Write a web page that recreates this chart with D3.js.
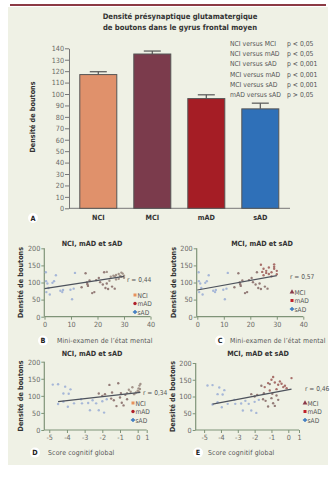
<!DOCTYPE html>
<html><head><meta charset="utf-8">
<script src="https://cdn.jsdelivr.net/npm/d3@7"></script>
<style>
html,body{margin:0;padding:0;background:#fff;}
svg{display:block;}
text{font-family:"Liberation Sans Narrow","DejaVu Sans Condensed","Liberation Sans",sans-serif;}
</style></head>
<body>
<svg id="c" width="336" height="478"></svg>
<script>
// ---------- DATA ----------
const barCats = ["NCI","MCI","mAD","sAD"];
const barValues = [117,135,96,87];
const barErrors = [2.5,2.6,3.3,5];
const barColors = ["#e0916b","#7b3b4c","#a51d25","#2f70b8"];
const barTicks = [0,10,20,30,40,50,60,70,80,90,100,110,120,130,140];
const statLabels = ["NCI versus MCI","NCI versus mAD","NCI versus sAD","MCI versus mAD","MCI versus sAD","mAD versus sAD"];
const statP = ["p < 0,05","p < 0,05","p < 0,001","p < 0,001","p < 0,001","p > 0,05"];

// MMSE panels (x: MMSE score, y: bouton density)
const sadMMSE = [[0.5,130],[0.6,104],[1.1,97],[0.7,72],[2,65],[1.5,84],[3.6,104],[4.3,121],[6,76],[6.7,72],[9.8,79],[10.4,51],[11,82],[3,99],[7,78],[11.5,128]];
const madMMSE = [[14,86],[15.5,127],[16,100],[16.4,90],[17,106],[18,69],[18.8,72],[19.5,107],[21,101],[22,94],[23,84],[24,81],[16.2,95],[20.5,113],[25.5,88],[26.5,82],[23.5,97],[22.5,130]];
const nciMMSE = [[23.5,131],[26,120],[27,122],[28,125],[29,129],[29,117],[30,114],[28,111],[25,117],[24.5,105],[27,109],[30,120],[29.5,126],[26.5,118],[28.5,119]];
const mciMMSE = [[24,152],[25,140],[26,134],[27,144],[28,130],[29,153],[29,140],[30,124],[27,125],[28,118],[26,128],[25,121],[29,146],[30,134],[24.5,131]];
// Global cognitive score panels
const sadGCS = [[-4.8,133],[-4.5,134],[-4.1,127],[-3.8,119],[-4.2,107],[-3.9,106],[-4.2,83],[-3.95,68],[-3.6,78],[-3.2,90],[-3.15,78],[-2.8,79],[-2.7,58],[-2.55,87],[-2.35,78],[-2.2,58],[-2.0,84],[-1.9,51],[-1.75,90],[-4.5,76]];
const madGCS = [[-2.2,107],[-2.0,100],[-1.85,105],[-1.6,132],[-1.45,110],[-1.35,87],[-1.1,137],[-1.0,95],[-0.9,80],[-0.8,72],[-0.7,103],[-1.2,70],[-0.95,108],[-0.6,90],[-1.5,92]];
const nciGCS = [[-0.5,118],[-0.3,125],[-0.1,110],[0.1,122],[0.2,130],[0.3,135],[-0.2,105],[0.0,115],[-0.4,112],[0.25,120],[-0.6,108],[0.15,112]];
const mciGCS = [[-1.4,128],[-1.2,140],[-1.0,150],[-0.9,158],[-0.8,142],[-0.6,135],[-0.5,145],[-0.3,128],[-0.2,132],[-0.1,125],[0.3,155],[-0.7,122],[-1.1,118],[-0.4,138]];

const fitB = [[0,82],[30,118]];
const fitC = [[0,78],[30,120]];
const fitD = [[-4.5,83],[0.3,110]];
const fitE = [[-4.5,77],[0.3,122]];
const mmseTicks = [0,10,20,30,40];
const gcsTicks = [-5,-4,-3,-2,-1,0,1];
const densTicks = [0,50,100,150,200];

// ---------- DRAW ----------
const svg = d3.select("#c");
svg.append("rect").attr("x",8).attr("y",7).attr("width",320).attr("height",458).attr("fill","#eff1e5");
svg.append("rect").attr("x",10).attr("y",4).attr("width",316).attr("height",2).attr("fill","#8c3a44");

const tc = "#6a6a66";
// Bar chart A
const yA = d3.scaleLinear().domain([0,140]).range([208.3,48.3]);
const xA = d3.scaleBand().domain(barCats).range([69,289.6]).paddingInner(0.315).paddingOuter(0.2);
const gA = svg.append("g");
gA.append("text").attr("x",180).attr("y",19).attr("text-anchor","middle").attr("font-size",7.6).attr("font-weight","bold").attr("fill","#333").text("Densité présynaptique glutamatergique");
gA.append("text").attr("x",180).attr("y",30).attr("text-anchor","middle").attr("font-size",7.6).attr("font-weight","bold").attr("fill","#333").text("de boutons dans le gyrus frontal moyen");
const axA = gA.append("g").attr("transform","translate(69,0)").call(d3.axisLeft(yA).tickValues(barTicks).tickSize(4).tickSizeOuter(0));
axA.select(".domain").attr("stroke","#777");
axA.selectAll(".tick line").attr("stroke","#777");
axA.selectAll(".tick text").attr("font-size",7.2).attr("fill",tc).attr("font-family",null).attr("x",-5);
gA.append("line").attr("x1",69).attr("x2",290).attr("y1",yA(0)).attr("y2",yA(0)).attr("stroke","#777");
gA.selectAll("rect.bar").data(barValues).join("rect").attr("class","bar")
  .attr("x",(d,i)=>xA(barCats[i])).attr("width",xA.bandwidth())
  .attr("y",d=>yA(d)).attr("height",d=>yA(0)-yA(d))
  .attr("fill",(d,i)=>barColors[i]).attr("stroke","#555").attr("stroke-width",1);
barValues.forEach((v,i)=>{
  const cx = xA(barCats[i])+xA.bandwidth()/2;
  gA.append("line").attr("x1",cx).attr("x2",cx).attr("y1",yA(v)).attr("y2",yA(v+barErrors[i])).attr("stroke","#555").attr("stroke-width",1.2);
  gA.append("line").attr("x1",cx-8.5).attr("x2",cx+8.5).attr("y1",yA(v+barErrors[i])).attr("y2",yA(v+barErrors[i])).attr("stroke","#555").attr("stroke-width",1.2);
});
gA.selectAll("text.cat").data(barCats).join("text").attr("class","cat")
  .attr("x",d=>xA(d)+xA.bandwidth()/2).attr("y",220).attr("text-anchor","middle")
  .attr("font-size",7.2).attr("font-weight","bold").attr("fill","#333").text(d=>d);
gA.append("text").attr("transform","translate(35,117) rotate(-90)").attr("text-anchor","middle").attr("font-size",7.2).attr("font-weight","bold").attr("fill","#333").text("Densité de boutons");
statLabels.forEach((s,i)=>{
  gA.append("text").attr("x",230).attr("y",46+i*10.2).attr("font-size",6.8).attr("fill","#555").text(s);
  gA.append("text").attr("x",287).attr("y",46+i*10.2).attr("font-size",6.8).attr("fill","#555").text(statP[i]);
});
function letter(x,y,t){
  svg.append("circle").attr("cx",x).attr("cy",y).attr("r",5).attr("fill","#fff");
  svg.append("text").attr("x",x).attr("y",y+2.6).attr("text-anchor","middle").attr("font-size",7.2).attr("font-weight","bold").attr("fill","#222").text(t);
}
letter(33,218,"A");

// Scatter panels
const axisCol = "#7f9478";
function scatter(o){
  const g = svg.append("g");
  const x = o.x, y = o.y;
  g.append("text").attr("x",o.titleX).attr("y",o.titleY).attr("text-anchor","middle").attr("font-size",7.2).attr("font-weight","bold").attr("fill","#333").text(o.title);
  const ay = g.append("g").attr("transform",`translate(${o.axX},0)`).call(d3.axisLeft(y).tickValues(densTicks).tickSize(3).tickSizeOuter(0));
  const ax = g.append("g").attr("transform",`translate(0,${y(0)})`).call(d3.axisBottom(x).tickValues(o.xTicks).tickSize(3).tickSizeOuter(0).tickFormat(d=>d<0?"-"+Math.abs(d):d));
  [ay,ax].forEach(a=>{
    a.select(".domain").attr("stroke",axisCol).attr("stroke-width",1.2);
    a.selectAll(".tick line").attr("stroke",axisCol);
    a.selectAll(".tick text").attr("font-size",7.2).attr("fill",tc).attr("font-family",null);
  });
  ay.selectAll(".tick text").attr("x",-4);
  ax.selectAll(".tick text").attr("y",5);
  ay.select(".domain").attr("d",`M0,${y(0)}V${y(200)}`);
  ax.select(".domain").attr("d",`M${o.axX},0H${x(o.xMax)}`);
  g.append("text").attr("transform",`translate(${o.ylX},${(y(0)+y(200))/2}) rotate(-90)`).attr("text-anchor","middle").attr("font-size",7.2).attr("font-weight","bold").attr("fill","#333").text("Densité de boutons");
  o.sets.forEach(s=>{
    g.selectAll(null).data(s.data).join("circle").attr("cx",d=>x(d[0])).attr("cy",d=>y(d[1])).attr("r",1.2).attr("fill",s.color).attr("opacity",0.9);
  });
  g.append("line").attr("x1",x(o.fit[0][0])).attr("y1",y(o.fit[0][1])).attr("x2",x(o.fit[1][0])).attr("y2",y(o.fit[1][1])).attr("stroke","#4d525c").attr("stroke-width",1.2);
  g.append("text").attr("x",o.rX).attr("y",o.rY).attr("font-size",6.6).attr("fill","#555").text(o.r);
  o.legend.forEach((l,i)=>{
    const ly = o.legY + i*8.5;
    if(l.shape==="sq") g.append("rect").attr("x",o.legX-1.5).attr("y",ly-1.5).attr("width",3).attr("height",3).attr("fill",l.color);
    else if(l.shape==="tri") g.append("path").attr("d",d3.symbol(d3.symbolTriangle,10)()).attr("transform",`translate(${o.legX},${ly})`).attr("fill",l.color);
    else if(l.shape==="plus") g.append("path").attr("d",d3.symbol(d3.symbolCross,10)()).attr("transform",`translate(${o.legX},${ly})`).attr("fill",l.color);
    else g.append("circle").attr("cx",o.legX).attr("cy",ly).attr("r",1.7).attr("fill",l.color);
    g.append("text").attr("x",o.legX+2.5).attr("y",ly+2.5).attr("font-size",6.6).attr("fill","#555").text(l.name);
  });
  g.append("text").attr("x",o.xtX).attr("y",o.xtY).attr("font-size",6.9).attr("letter-spacing",0.15).attr("fill","#555").text(o.xTitle);
  letter(o.lX,o.xtY-2.4,o.letter);
}
const cSad="#9db0d6", cMad="#8a6f6c", cNci="#9a8a80", cMci="#a0605c";
scatter({title:"NCI, mAD et sAD",titleX:92,titleY:246,axX:44.3,
  x:d3.scaleLinear().domain([0,40]).range([44.5,150.5]), y:d3.scaleLinear().domain([0,200]).range([316.7,248.3]),
  xTicks:mmseTicks,xMax:40,ylX:23,
  sets:[{data:sadMMSE,color:cSad},{data:madMMSE,color:cMad},{data:nciMMSE,color:cNci}],
  fit:fitB,r:"r = 0,44",rX:127,rY:282,
  legend:[{name:"NCI",color:"#e8915c",shape:"sq"},{name:"mAD",color:"#b0202a",shape:"dot"},{name:"sAD",color:"#3a78c0",shape:"plus"}],legX:135,legY:295,
  xTitle:"Mini-examen de l’état mental",xtX:57,xtY:343,lX:43,letter:"B"});
scatter({title:"MCI, mAD et sAD",titleX:262,titleY:246,axX:196.7,
  x:d3.scaleLinear().domain([0,40]).range([197.3,303.3]), y:d3.scaleLinear().domain([0,200]).range([316.7,248.3]),
  xTicks:mmseTicks,xMax:40,ylX:176,
  sets:[{data:sadMMSE,color:cSad},{data:madMMSE,color:cMad},{data:mciMMSE,color:cMci}],
  fit:fitC,r:"r = 0,57",rX:290,rY:279,
  legend:[{name:"MCI",color:"#8a3a4a",shape:"tri"},{name:"mAD",color:"#c0202a",shape:"sq"},{name:"sAD",color:"#3a78c0",shape:"plus"}],legX:292,legY:292,
  xTitle:"Mini-examen de l’état mental",xtX:230,xtY:343,lX:220,letter:"C"});
scatter({title:"NCI, mAD et sAD",titleX:92,titleY:356,axX:44.3,
  x:d3.scaleLinear().domain([-5.28,0,1]).range([44.3,137.7,146.7]), y:d3.scaleLinear().domain([0,200]).range([430,361.7]),
  xTicks:gcsTicks,xMax:1,ylX:23,
  sets:[{data:sadGCS,color:cSad},{data:madGCS,color:cMad},{data:nciGCS,color:cNci}],
  fit:fitD,r:"r = 0,34",rX:143,rY:395,
  legend:[{name:"NCI",color:"#e8915c",shape:"sq"},{name:"mAD",color:"#b0202a",shape:"dot"},{name:"sAD",color:"#3a78c0",shape:"plus"}],legX:133,legY:403,
  xTitle:"Score cognitif global",xtX:48,xtY:455,lX:35,letter:"D"});
scatter({title:"MCI, mAD et sAD",titleX:258,titleY:356,axX:195.7,
  x:d3.scaleLinear().domain([-5.5,0,1]).range([195.7,288.3,299]), y:d3.scaleLinear().domain([0,200]).range([430,363]),
  xTicks:gcsTicks,xMax:1,ylX:175,
  sets:[{data:sadGCS,color:cSad},{data:madGCS,color:cMad},{data:mciGCS,color:cMci}],
  fit:fitE,r:"r = 0,46",rX:305,rY:391,
  legend:[{name:"MCI",color:"#8a3a4a",shape:"tri"},{name:"mAD",color:"#c0202a",shape:"sq"},{name:"sAD",color:"#3a78c0",shape:"plus"}],legX:305,legY:403,
  xTitle:"Score cognitif global",xtX:208,xtY:455,lX:198,letter:"E"});
</script>
</body></html>
